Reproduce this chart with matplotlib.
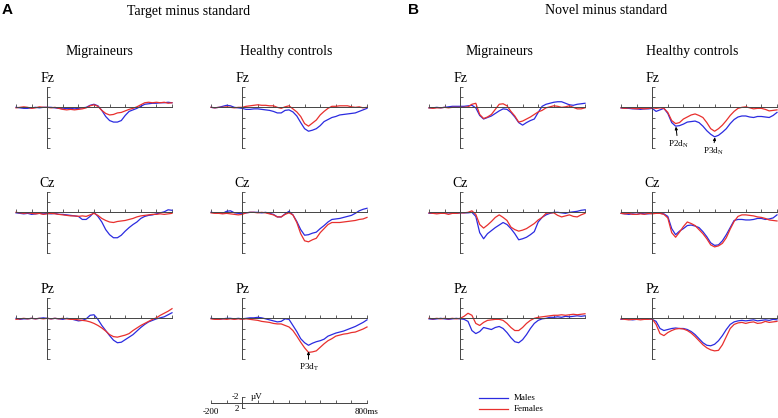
import matplotlib.pyplot as plt
from matplotlib.lines import Line2D
import numpy as np

plt.rcParams['font.family'] = ['Liberation Serif', 'DejaVu Serif']
plt.rcParams['mathtext.fontset'] = 'stix'

# time axis (ms), one sample every 25 ms
t = np.arange(-200, 801, 25)

# --- A : target minus standard (uV, positive plotted downwards) ---
a_mig_fz_m = [0.0, 0.05, 0.1, 0.1, 0.05, 0.0, 0.05, 0.0, 0.0,
              0.0, 0.05, 0.1, 0.15, 0.1, 0.1, 0.15, 0.1,
              0.05, 0.0, -0.2, -0.3, -0.15, 0.3, 0.9, 1.3,
              1.45, 1.45, 1.3, 0.8, 0.4, 0.25, 0.1, -0.1,
              -0.3, -0.35, -0.4, -0.4, -0.45, -0.45, -0.5, -0.45]
a_mig_fz_f = [0.05, 0.0, -0.05, 0.0, 0.1, 0.05, -0.05, 0.0, 0.0,
              0.05, 0.0, 0.1, 0.2, 0.25, 0.2, 0.25, 0.2,
              0.15, 0.05, -0.15, -0.25, -0.1, 0.3, 0.6, 0.75,
              0.7, 0.55, 0.5, 0.35, 0.2, 0.1, -0.05, -0.25,
              -0.45, -0.5, -0.45, -0.5, -0.45, -0.5, -0.4, -0.45]
a_hc_fz_m = [0.0, 0.05, 0.0, -0.1, -0.2, -0.15, 0.0, 0.05, 0.1,
             0.2, 0.2, 0.15, 0.15, 0.2, 0.25, 0.3, 0.4,
             0.55, 0.55, 0.3, 0.25, 0.45, 0.85, 1.5, 2.1,
             2.35, 2.25, 2.1, 1.8, 1.4, 1.2, 1.0, 0.9,
             0.75, 0.7, 0.65, 0.6, 0.55, 0.4, 0.25, 0.1]
a_hc_fz_f = [0.0, 0.05, 0.0, 0.0, -0.05, 0.0, 0.05, 0.0, 0.0,
             -0.1, -0.15, -0.2, -0.25, -0.2, -0.2, -0.15, -0.15,
             0.0, 0.1, -0.05, -0.15, 0.15, 0.45, 0.9, 1.6,
             1.85, 1.55, 1.25, 0.75, 0.4, 0.1, -0.1, -0.1,
             -0.15, -0.15, -0.15, -0.05, 0.0, -0.05, 0.05, 0.0]

a_mig_cz_m = [0.05, 0.1, 0.15, 0.1, 0.2, 0.15, 0.1, 0.15, 0.1,
              0.15, 0.1, 0.2, 0.2, 0.25, 0.3, 0.35, 0.4,
              0.7, 0.7, 0.4, 0.0, 0.4, 0.95, 1.7, 2.2,
              2.5, 2.5, 2.25, 1.85, 1.5, 1.2, 0.95, 0.6,
              0.4, 0.3, 0.25, 0.15, 0.05, -0.05, -0.25, -0.2]
a_mig_cz_f = [0.0, 0.05, 0.1, 0.05, 0.1, 0.15, 0.1, 0.2, 0.15,
              0.1, 0.15, 0.2, 0.25, 0.3, 0.35, 0.35, 0.4,
              0.35, 0.4, 0.25, 0.1, 0.3, 0.6, 0.8, 0.95,
              1.0, 0.9, 0.85, 0.8, 0.7, 0.6, 0.45, 0.35,
              0.3, 0.25, 0.2, 0.2, 0.15, 0.2, 0.15, 0.1]
a_hc_cz_m = [0.0, 0.05, 0.1, 0.1, -0.1, -0.15, 0.05, 0.1, 0.1,
             0.05, 0.0, 0.0, 0.0, 0.05, 0.0, 0.1, 0.2,
             0.45, 0.45, 0.15, -0.1, 0.25, 0.9, 1.7, 2.25,
             2.2, 2.05, 1.95, 1.6, 1.3, 0.95, 0.7, 0.65,
             0.6, 0.5, 0.4, 0.3, 0.1, -0.15, -0.3, -0.4]
a_hc_cz_f = [0.05, 0.1, 0.1, 0.15, 0.1, 0.15, 0.2, 0.25, 0.2,
             0.05, 0.0, 0.0, 0.05, 0.0, 0.05, 0.15, 0.25,
             0.45, 0.45, 0.2, 0.05, 0.25, 1.0, 2.1, 2.8,
             2.9, 2.7, 2.55, 2.0, 1.6, 1.2, 1.0, 1.0,
             1.0, 0.95, 0.9, 0.85, 0.8, 0.7, 0.65, 0.5]

a_mig_pz_m = [0.0, 0.1, 0.05, 0.05, 0.0, 0.05, 0.0, -0.05, 0.0,
              0.05, 0.0, 0.05, 0.1, 0.0, 0.05, 0.15, 0.25,
              0.2, 0.05, -0.3, -0.35, 0.1, 0.7, 1.2, 1.7,
              2.15, 2.4, 2.35, 2.1, 1.85, 1.6, 1.25, 0.9,
              0.6, 0.35, 0.2, 0.05, -0.05, -0.15, -0.35, -0.55]
a_mig_pz_f = [0.1, 0.05, 0.0, 0.05, 0.0, 0.05, 0.0, 0.05, 0.0,
              0.05, 0.0, 0.05, 0.0, 0.05, 0.1, 0.1, 0.15,
              0.2, 0.25, 0.35, 0.5, 0.7, 0.95, 1.25, 1.6,
              1.8, 1.85, 1.75, 1.65, 1.5, 1.2, 0.95, 0.7,
              0.5, 0.3, 0.1, -0.05, -0.3, -0.5, -0.7, -0.95]
a_hc_pz_m = [0.0, 0.05, 0.1, 0.05, 0.0, 0.0, 0.05, 0.0, 0.05,
             0.0, -0.05, -0.05, -0.1, -0.05, 0.05, 0.15, 0.25,
             0.35, 0.3, 0.05, 0.1, 0.7, 1.3, 2.0, 2.4,
             2.65, 2.45, 2.3, 2.2, 2.05, 1.75, 1.6, 1.45,
             1.35, 1.25, 1.1, 0.95, 0.8, 0.6, 0.4, 0.15]
a_hc_pz_f = [0.05, 0.1, 0.1, 0.05, 0.1, 0.05, 0.1, 0.05, 0.1,
             0.05, 0.1, 0.15, 0.2, 0.3, 0.35, 0.4, 0.5,
             0.55, 0.55, 0.7, 0.85, 1.2, 1.75, 2.35, 2.9,
             3.35, 3.3, 3.2, 2.85, 2.5, 2.2, 2.0, 1.75,
             1.65, 1.55, 1.5, 1.4, 1.35, 1.2, 1.05, 0.85]

# --- B : novel minus standard ---
b_mig_fz_m = [0.05, 0.05, 0.0, 0.05, 0.0, -0.05, -0.1, -0.1, -0.1,
              -0.1, -0.15, -0.2, 0.05, 0.8, 1.15, 1.0, 0.85,
              0.6, 0.35, 0.15, 0.2, 0.5, 0.95, 1.5, 1.75,
              1.5, 1.3, 1.15, 0.5, -0.1, -0.3, -0.4, -0.5,
              -0.55, -0.55, -0.4, -0.25, -0.2, -0.3, -0.35, -0.4]
b_mig_fz_f = [0.05, 0.1, 0.05, 0.05, 0.0, 0.05, 0.0, 0.0, 0.0,
              0.0, -0.05, -0.3, -0.4, 0.7, 1.1, 0.95, 0.7,
              0.2, -0.3, -0.35, -0.15, 0.4, 0.85, 1.45, 1.35,
              1.15, 0.95, 0.7, 0.45, 0.3, 0.05, -0.05, -0.15,
              -0.1, 0.0, -0.05, -0.15, 0.0, 0.15, 0.15, 0.05]
b_hc_fz_m = [0.05, 0.1, 0.1, 0.15, 0.15, 0.2, 0.15, 0.15, 0.1,
             0.4, 0.25, 0.1, 0.6, 1.5, 1.85, 1.8, 1.65,
             1.45, 1.4, 1.35, 1.5, 1.85, 2.3, 2.65, 2.9,
             2.75, 2.45, 2.1, 1.6, 1.2, 0.95, 0.85, 0.85,
             0.95, 1.0, 0.9, 0.9, 0.95, 1.0, 0.8, 0.5]
b_hc_fz_f = [0.05, 0.1, 0.05, 0.1, 0.15, 0.1, 0.15, 0.1, 0.05,
             0.1, 0.05, 0.1, 0.5, 1.3, 1.6, 1.5, 1.15,
             0.95, 0.75, 0.65, 0.8, 1.0, 1.5, 2.1, 2.35,
             2.1, 1.75, 1.3, 0.8, 0.4, 0.1, 0.0, -0.05,
             0.05, 0.15, 0.1, 0.1, 0.2, 0.35, 0.3, 0.25]

b_mig_cz_m = [0.1, 0.1, 0.05, 0.1, 0.1, 0.05, 0.1, 0.1, 0.05,
              0.05, 0.05, 0.0, 0.4, 2.0, 2.6, 2.1, 1.8,
              1.5, 1.25, 1.0, 1.2, 1.6, 2.1, 2.7, 2.6,
              2.45, 2.2, 1.9, 0.95, 0.5, 0.25, 0.1, 0.0,
              0.0, 0.05, 0.1, 0.0, -0.05, -0.1, -0.2, -0.25]
b_mig_cz_f = [0.05, 0.1, 0.15, 0.1, 0.1, 0.2, 0.1, 0.1, 0.05,
              0.05, 0.0, -0.15, 0.2, 1.2, 1.55, 1.25, 0.9,
              0.5, 0.25, 0.5, 0.8, 1.45, 1.7, 1.85, 1.75,
              1.6, 1.35, 1.1, 0.75, 0.5, 0.1, 0.05, 0.05,
              0.3, 0.45, 0.35, 0.25, 0.4, 0.45, 0.25, 0.1]
b_hc_cz_m = [0.1, 0.15, 0.2, 0.15, 0.2, 0.1, 0.15, 0.15, 0.1,
             0.05, 0.1, 0.15, 0.4, 1.6, 2.2, 1.85, 1.6,
             1.3, 1.25, 1.35, 1.5, 1.9, 2.4, 3.0, 3.25,
             3.2, 2.8, 2.2, 1.5, 0.8, 0.7, 0.7, 0.75,
             0.75, 0.7, 0.6, 0.6, 0.7, 0.65, 0.55, 0.25]
b_hc_cz_f = [0.1, 0.15, 0.1, 0.2, 0.2, 0.15, 0.2, 0.1, 0.15,
             0.1, 0.1, 0.2, 0.55, 2.0, 2.45, 1.95, 1.4,
             0.95, 1.1, 1.3, 1.7, 2.1, 2.6, 3.2, 3.4,
             3.3, 3.05, 2.5, 1.65, 0.9, 0.4, 0.25, 0.25,
             0.3, 0.35, 0.45, 0.5, 0.6, 0.75, 0.8, 0.85]

b_mig_pz_m = [0.05, 0.1, 0.05, 0.0, 0.05, 0.1, 0.05, 0.0, 0.05,
              0.1, 0.3, 1.2, 1.5, 1.3, 0.9, 1.0, 1.1,
              0.9, 0.8, 1.0, 1.4, 1.9, 2.3, 2.4, 2.1,
              1.6, 1.0, 0.5, 0.2, 0.05, 0.0, -0.1, -0.1,
              -0.15, -0.1, -0.2, -0.15, -0.2, -0.25, -0.2, -0.25]
b_mig_pz_f = [0.0, 0.05, 0.0, 0.05, 0.0, 0.05, 0.0, 0.05, 0.0,
              -0.2, -0.5, -0.3, 0.5, 0.7, 0.4, 0.2, 0.15,
              0.1, 0.1, 0.2, 0.5, 0.9, 1.2, 1.2, 0.9,
              0.5, 0.2, 0.0, -0.1, -0.15, -0.2, -0.25, -0.3,
              -0.3, -0.35, -0.3, -0.35, -0.4, -0.35, -0.4, -0.45]
b_hc_pz_m = [0.1, 0.05, 0.1, 0.15, 0.1, 0.05, 0.1, 0.05, 0.1,
             0.3, 1.0, 1.2, 1.1, 1.0, 0.95, 1.0, 1.0,
             1.1, 1.3, 1.6, 2.0, 2.4, 2.65, 2.7, 2.55,
             2.2, 1.7, 1.1, 0.6, 0.35, 0.25, 0.2, 0.25,
             0.2, 0.15, 0.25, 0.2, 0.15, 0.2, 0.1, 0.15]
b_hc_pz_f = [0.05, 0.1, 0.15, 0.1, 0.1, 0.15, 0.1, 0.1, 0.05,
             0.6, 1.5, 1.7, 1.4, 1.2, 1.05, 1.0, 1.05,
             1.2, 1.45, 1.8, 2.2, 2.6, 2.9, 3.1, 3.2,
             3.15, 2.6, 1.8, 1.0, 0.6, 0.45, 0.4, 0.5,
             0.4, 0.35, 0.5, 0.45, 0.3, 0.4, 0.35, 0.3]

electrodes = ['Fz', 'Cz', 'Pz']
panels = [  # rows = electrodes, columns = A-mig, A-hc, B-mig, B-hc
    [(a_mig_fz_m, a_mig_fz_f), (a_hc_fz_m, a_hc_fz_f), (b_mig_fz_m, b_mig_fz_f), (b_hc_fz_m, b_hc_fz_f)],
    [(a_mig_cz_m, a_mig_cz_f), (a_hc_cz_m, a_hc_cz_f), (b_mig_cz_m, b_mig_cz_f), (b_hc_cz_m, b_hc_cz_f)],
    [(a_mig_pz_m, a_mig_pz_f), (a_hc_pz_m, a_hc_pz_f), (b_mig_pz_m, b_mig_pz_f), (b_hc_pz_m, b_hc_pz_f)],
]

BLUE = '#2b2be0'
RED = '#e8302e'
AXC = '#444444'

W, H = 778, 418
fig = plt.figure(figsize=(W / 100, H / 100), dpi=100)


def px_axes(left, top, width, height):
    return fig.add_axes([left / W, 1 - (top + height) / H, width / W, height / H])


def erp_axis(ax, ylim, yticks):
    ax.set_xlim(-200, 800)
    ax.set_ylim(ylim)
    ax.patch.set_visible(False)
    for s in ['top', 'right']:
        ax.spines[s].set_visible(False)
    for s in ['left', 'bottom']:
        ax.spines[s].set_position(('data', 0))
        ax.spines[s].set_color(AXC)
        ax.spines[s].set_linewidth(0.7)
    ax.set_xticks(np.arange(-200, 801, 100))
    ax.set_yticks(yticks)
    ax.tick_params(direction='in', length=2.2, width=0.6, colors=AXC,
                   labelbottom=False, labelleft=False)


col_left = [16, 211, 429, 621]
row_top = [87, 192, 298]
axes = {}
for r, el in enumerate(electrodes):
    for c in range(4):
        ax = px_axes(col_left[c], row_top[r], 156, 61)
        erp_axis(ax, (4, -2), np.arange(-2, 5, 1))
        males, females = panels[r][c]
        ax.plot(t, males, color=BLUE, lw=0.9, clip_on=False)
        ax.plot(t, females, color=RED, lw=0.9, clip_on=False)
        ax.annotate(el, xy=(0, -2), xytext=(0, 1.5), textcoords='offset points',
                    ha='center', va='bottom', fontsize=10, annotation_clip=False)
        axes[(r, c)] = ax

# component labels
arrow = dict(arrowstyle='-|>', lw=0.7, color='black', mutation_scale=4,
             shrinkA=0, shrinkB=0)
axes[(2, 1)].annotate(r'P3d$_\mathrm{T}$', xy=(425, 3.25), xytext=(425, 4.85),
                      ha='center', va='center', fontsize=6.5, arrowprops=arrow,
                      annotation_clip=False)
axes[(0, 3)].annotate(r'P2d$_\mathrm{N}$', xy=(152, 1.9), xytext=(165, 3.6),
                      ha='center', va='center', fontsize=6.5, arrowprops=arrow,
                      annotation_clip=False)
axes[(0, 3)].annotate(r'P3d$_\mathrm{N}$', xy=(402, 2.95), xytext=(390, 4.3),
                      ha='center', va='center', fontsize=6.5, arrowprops=arrow,
                      annotation_clip=False)

# headers
fig.text(2 / W, 1 - 10 / H, 'A', fontsize=11, fontweight='bold',
         family=['Liberation Sans', 'DejaVu Sans'], va='center')
fig.text(408 / W, 1 - 10 / H, 'B', fontsize=11, fontweight='bold',
         family=['Liberation Sans', 'DejaVu Sans'], va='center')
fig.text(189 / W, 1 - 11 / H, 'Target minus standard', fontsize=10, ha='center', va='center')
fig.text(606 / W, 1 - 11 / H, 'Novel minus standard', fontsize=10, ha='center', va='center')
for x, label in [(99, 'Migraineurs'), (286, 'Healthy controls'),
                 (499, 'Migraineurs'), (692, 'Healthy controls')]:
    fig.text(x / W, 1 - 52 / H, label, fontsize=10, ha='center', va='center')

# scale bar
sb = px_axes(211, 397, 156, 11)
erp_axis(sb, (2, -2), [-2, 2])
sb.text(-200, 3.3, '-200', fontsize=6.5, ha='center', va='center')
sb.text(800, 3.3, '800ms', fontsize=6.5, ha='center', va='center')
sb.text(-18, -2, '-2', fontsize=6.5, ha='right', va='center')
sb.text(-18, 2.3, '2', fontsize=6.5, ha='right', va='center')
sb.text(55, -2, 'µV', fontsize=6.5, ha='left', va='center')

# legend
for y, col, name in [(398, BLUE, 'Males'), (409, RED, 'Females')]:
    fig.add_artist(Line2D([479 / W, 508 / W], [1 - y / H, 1 - y / H], color=col, lw=0.9))
    fig.text(514 / W, 1 - y / H, name, fontsize=6.5, va='center')

fig.savefig('out.png', dpi=100)
